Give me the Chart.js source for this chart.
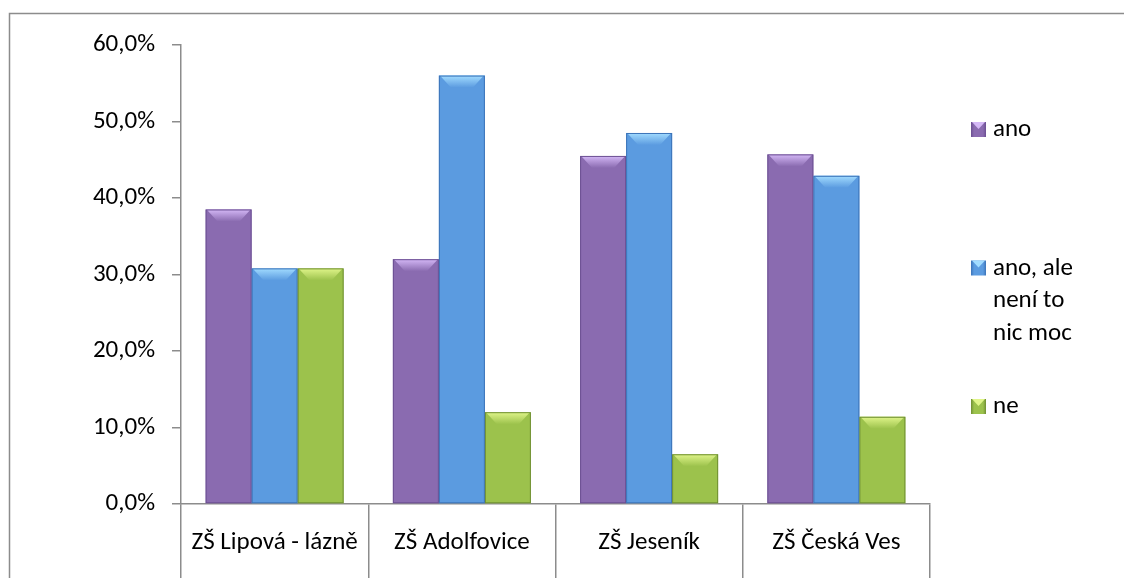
<!DOCTYPE html>
<html>
<head>
<meta charset="utf-8">
<style>
html,body{margin:0;padding:0;background:#fff;}
#wrap{position:relative;width:1124px;height:578px;}
</style>
<script src="https://cdn.jsdelivr.net/npm/chart.js@4.4.1/dist/chart.umd.min.js"></script>
</head>
<body>
<div id="wrap"><canvas id="c" width="1124" height="578"></canvas></div>
<script>
const categories = ["ZŠ Lipová - lázně", "ZŠ Adolfovice", "ZŠ Jeseník", "ZŠ Česká Ves"];
const seriesNames = ["ano", "ano, ale není to nic moc", "ne"];
const legendLines = [["ano"], ["ano, ale", "není to", "nic moc"], ["ne"]];
const ano = [0.385, 0.32, 0.455, 0.457];
const anoAle = [0.308, 0.56, 0.485, 0.429];
const ne = [0.308, 0.12, 0.065, 0.114];
const yTicks = [0, 0.1, 0.2, 0.3, 0.4, 0.5, 0.6];

const FONT = "Carlito, Calibri, Lato, 'Liberation Sans', sans-serif";
const FS = 25;
const palette = [
  {edge:'#6b4f92', body:'#8a6bb0', top:'#d4b8f6'},
  {edge:'#3c74b9', body:'#5b9be0', top:'#a2dcff'},
  {edge:'#6f8f33', body:'#9cc24c', top:'#e0f58a'}
];

function barFill(idx){
  return function(ctx){
    const el = ctx.element;
    const chart = ctx.chart;
    if(!el || !chart.chartArea || !isFinite(el.x) || !isFinite(el.width)) return palette[idx].body;
    const w = el.width;
    const g = chart.ctx.createLinearGradient(el.x - w/2, 0, el.x + w/2, 0);
    g.addColorStop(0, palette[idx].edge);
    g.addColorStop(0.08, palette[idx].body);
    g.addColorStop(0.9, palette[idx].body);
    g.addColorStop(1, palette[idx].edge);
    return g;
  };
}

const bevelPlugin = {
  id:'bevel',
  afterDatasetsDraw(chart){
    const c = chart.ctx;
    chart.data.datasets.forEach((ds, di)=>{
      const meta = chart.getDatasetMeta(di);
      meta.data.forEach(bar=>{
        if(!isFinite(bar.x) || !isFinite(bar.y)) return;
        const l = bar.x - bar.width/2, r = bar.x + bar.width/2, t = bar.y;
        const b = Math.min(12, (bar.base - t)/2);
        c.save();
        const g = c.createLinearGradient(0, t, 0, t+b);
        g.addColorStop(0, palette[di].top);
        g.addColorStop(1, palette[di].body);
        c.fillStyle = g;
        c.beginPath();
        c.moveTo(l+1, t); c.lineTo(r-1, t); c.lineTo(r-b, t+b); c.lineTo(l+b, t+b); c.closePath();
        c.fill();
        c.strokeStyle = palette[di].edge;
        c.lineWidth = 1;
        c.strokeRect(l+0.5, t+0.5, bar.width-1, bar.base - t - 1);
        c.restore();
      });
    });
  }
};

const framePlugin = {
  id:'frame',
  afterDraw(chart){
    const c = chart.ctx;
    c.save();
    c.strokeStyle = '#8c8c8c';
    c.lineWidth = 1.5;
    c.beginPath();
    c.moveTo(9.5, 600); c.lineTo(9.5, 13.5); c.lineTo(1130, 13.5);
    c.stroke();
    const area = chart.chartArea;
    const centers = [129, 300, 406];
    c.font = FS + "px " + FONT;
    c.textBaseline = 'middle';
    legendLines.forEach((lines, i)=>{
      const lh = 32.5;
      const y0 = centers[i] - (lines.length-1)*lh/2;
      const sx = area.right + 41, sy = y0 - 7;
      const g = c.createLinearGradient(sx, 0, sx+15, 0);
      g.addColorStop(0, palette[i].edge); g.addColorStop(0.2, palette[i].body);
      g.addColorStop(0.8, palette[i].body); g.addColorStop(1, palette[i].edge);
      c.fillStyle = g;
      c.fillRect(sx, sy, 15, 15);
      c.fillStyle = palette[i].top;
      c.beginPath(); c.moveTo(sx+1, sy); c.lineTo(sx+14, sy); c.lineTo(sx+7.5, sy+7); c.closePath(); c.fill();
      c.fillStyle = '#000';
      lines.forEach((ln, k)=>{ c.fillText(ln, area.right + 63, y0 + k*lh + 1); });
    });
    c.restore();
  }
};

new Chart(document.getElementById('c'), {
  type:'bar',
  data:{
    labels: categories,
    datasets:[
      {label: seriesNames[0], data: ano, backgroundColor: barFill(0)},
      {label: seriesNames[1], data: anoAle, backgroundColor: barFill(1)},
      {label: seriesNames[2], data: ne, backgroundColor: barFill(2)}
    ]
  },
  options:{
    responsive:false,
    animation:false,
    categoryPercentage:0.737,
    barPercentage:1,
    layout:{padding:{left:0, top:45, right:194, bottom:0}},
    plugins:{legend:{display:false}, tooltip:{enabled:false}},
    scales:{
      x:{
        offset:true,
        grid:{offset:true, drawOnChartArea:false, color:'#8c8c8c', lineWidth:1.5, tickLength:80},
        border:{color:'#8c8c8c', width:1.5},
        ticks:{color:'#000', font:{family:FONT, size:FS}, padding:-56},
        afterFit(s){ s.height = 74; }
      },
      y:{
        min:0, max:0.6,
        afterBuildTicks(s){ s.ticks = yTicks.map(v=>({value:v})); },
        grid:{drawOnChartArea:false, color:'#8c8c8c', lineWidth:1.5, tickLength:9},
        border:{color:'#8c8c8c', width:1.5},
        ticks:{color:'#000', font:{family:FONT, size:FS}, padding:17,
          callback:v=> (v*100).toFixed(1).replace('.', ',') + '%'},
        afterFit(s){ s.width = 181; }
      }
    }
  },
  plugins:[bevelPlugin, framePlugin]
});
</script>
</body>
</html>
